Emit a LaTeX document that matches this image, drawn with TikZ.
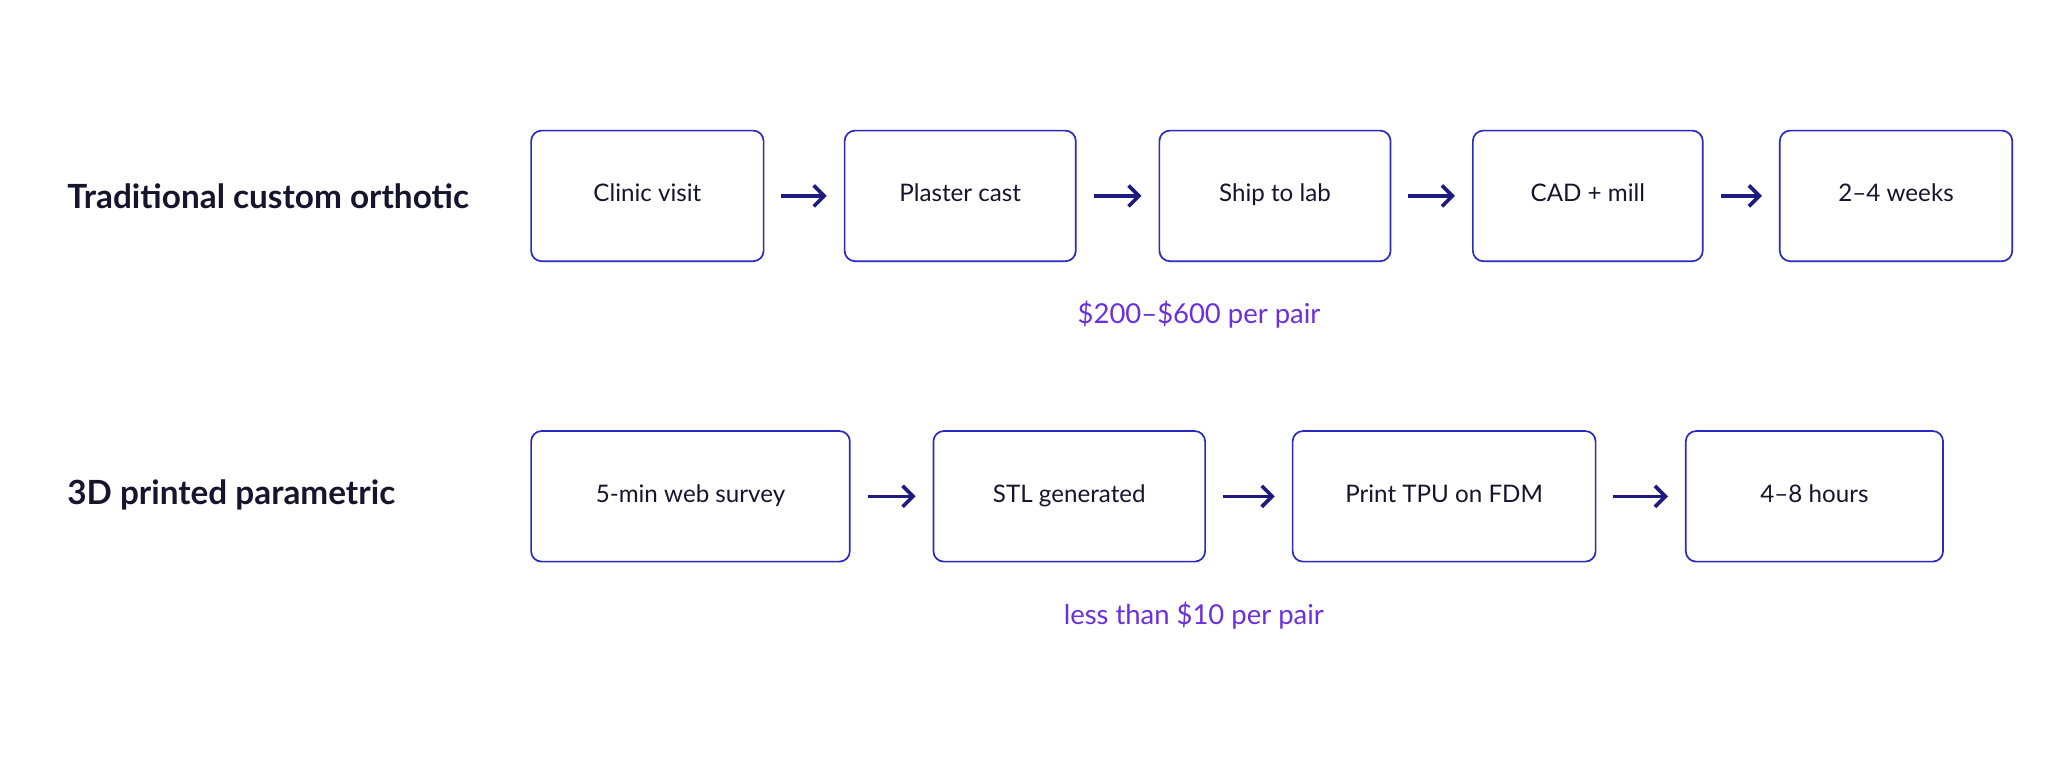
\documentclass[tikz,border=0pt]{standalone}
\usepackage{fontspec}
\setmainfont{Lato}
\usetikzlibrary{arrows.meta}
\definecolor{boxc}{HTML}{2A2AC0}
\definecolor{arr}{HTML}{1E1A80}
\definecolor{txt}{HTML}{15152E}
\definecolor{purp}{HTML}{6A30E0}
\tikzset{
  stepbox/.style={draw=boxc,line width=1.3pt,rounded corners=8pt,text=txt,font=\fontsize{18.5}{21}\selectfont,text height=13pt,text depth=4pt,minimum height=100pt,anchor=west},
  flow/.style={-{Straight Barb[length=8pt,width=16pt,line width=2.8pt]},draw=arr,line width=2.8pt,shorten <=13pt,shorten >=13pt},
  rowlabel/.style={text=txt,font=\fontsize{25.5}{30}\selectfont\bfseries,anchor=west},
  cost/.style={text=purp,font=\fontsize{21}{24}\selectfont}
}
\begin{document}
\begin{tikzpicture}[x=1pt,y=-1pt]
\useasboundingbox[fill=white] (0,0) rectangle (1568,588);
\node[rowlabel] (l1) at (48,150) {Traditional custom orthotic};
\node[rowlabel] (l2) at (48,379) {3D printed parametric};
\node[stepbox,minimum width=178pt] (a1) at (406,150) {Clinic visit};
\node[stepbox,minimum width=177pt] (a2) at (646,150) {Plaster cast};
\node[stepbox,minimum width=177pt] (a3) at (887,150) {Ship to lab};
\node[stepbox,minimum width=176pt] (a4) at (1127,150) {CAD + mill};
\node[stepbox,minimum width=178pt] (a5) at (1362,150) {2--4 weeks};
\draw[flow] (a1) -- (a2);
\draw[flow] (a2) -- (a3);
\draw[flow] (a3) -- (a4);
\draw[flow] (a4) -- (a5);
\node[cost] (c1) at (918,241) {\$200--\$600 per pair};
\node[stepbox,minimum width=244pt] (b1) at (406,380) {5-min web survey};
\node[stepbox,minimum width=208pt] (b2) at (714,380) {STL generated};
\node[stepbox,minimum width=232pt] (b3) at (989,380) {Print TPU on FDM};
\node[stepbox,minimum width=197pt] (b4) at (1290,380) {4--8 hours};
\draw[flow] (b1) -- (b2);
\draw[flow] (b2) -- (b3);
\draw[flow] (b3) -- (b4);
\node[cost] (c2) at (914,471) {less than \$10 per pair};
\end{tikzpicture}
\end{document}
